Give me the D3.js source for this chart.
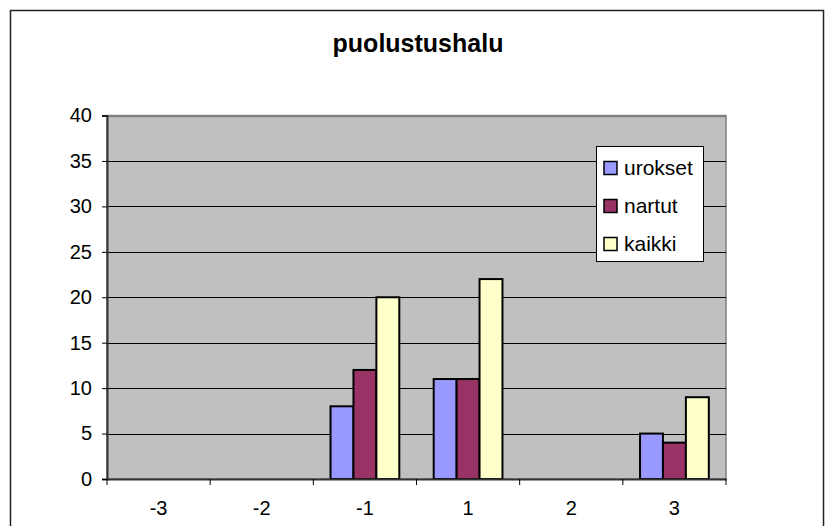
<!DOCTYPE html>
<html>
<head>
<meta charset="utf-8">
<script src="https://cdn.jsdelivr.net/npm/d3@7"></script>
<style>
  body { margin: 0; background: #fff; }
  text { font-family: Arial, "Liberation Sans", sans-serif; }
</style>
</head>
<body>
<div id="chart"></div>
<script>
// Data
const categories = ["-3", "-2", "-1", "1", "2", "3"];
const seriesNames = ["urokset", "nartut", "kaikki"];
const urokset = [0, 0, 8, 11, 0, 5];
const nartut = [0, 0, 12, 11, 0, 4];
const kaikki = [0, 0, 20, 22, 0, 9];
const yTicks = [0, 5, 10, 15, 20, 25, 30, 35, 40];
const colors = ["#9999ff", "#993366", "#ffffcc"];

const seriesValues = [urokset, nartut, kaikki];

const W = 826, H = 526;
const plot = {left: 107, top: 115.5, right: 726, bottom: 479};

const svg = d3.select("#chart")
    .append("svg")
    .attr("width", W)
    .attr("height", H);

// Outer frame
svg.append("rect")
    .attr("x", 10.5)
    .attr("y", 10.5)
    .attr("width", 813)
    .attr("height", 530)
    .attr("fill", "#fff")
    .attr("stroke", "#222")
    .attr("stroke-width", 1.5);

// Title
svg.append("text")
    .attr("x", 418)
    .attr("y", 52)
    .attr("text-anchor", "middle")
    .style("font-size", "25px")
    .style("font-weight", "bold")
    .text("puolustushalu");

// Scales
const x0 = d3.scaleBand()
    .domain(categories)
    .range([plot.left, plot.right]);

const x1 = d3.scaleBand()
    .domain(seriesNames)
    .range([0, x0.bandwidth()])
    .paddingOuter(0.75)
    .paddingInner(0);

const y = d3.scaleLinear()
    .domain([0, 40])
    .range([plot.bottom, plot.top]);

// Plot area
svg.append("rect")
    .attr("x", plot.left)
    .attr("y", plot.top)
    .attr("width", plot.right - plot.left)
    .attr("height", plot.bottom - plot.top)
    .attr("fill", "#c0c0c0")
    .attr("stroke", "#808080")
    .attr("stroke-width", 1.5);

// Gridlines
svg.append("g")
    .selectAll("line")
    .data(yTicks.filter(d => d > 0))
    .enter()
    .append("line")
    .attr("x1", plot.left)
    .attr("x2", plot.right)
    .attr("y1", d => Math.round(y(d)) + 0.5)
    .attr("y2", d => Math.round(y(d)) + 0.5)
    .attr("stroke", d => d === 40 ? "#808080" : "#000")
    .attr("stroke-width", d => d === 40 ? 1.5 : 1);

// Bars
categories.forEach((c, i) => {
    seriesNames.forEach((s, j) => {
        const v = seriesValues[j][i];
        if (v <= 0) return;
        svg.append("rect")
            .attr("x", x0(c) + x1(s))
            .attr("y", y(v))
            .attr("width", x1.bandwidth())
            .attr("height", y(0) - y(v))
            .attr("fill", colors[j])
            .attr("stroke", "#000")
            .attr("stroke-width", 2);
    });
});

// Y axis
const yAxis = svg.append("g")
    .attr("transform", `translate(${plot.left},0)`)
    .call(d3.axisLeft(y).tickValues(yTicks).tickSize(5).tickPadding(10));
yAxis.select(".domain").attr("stroke", "#333").attr("stroke-width", 2);
yAxis.selectAll(".tick line").attr("stroke", "#000");
yAxis.selectAll(".tick text")
    .style("font-size", "20px")
    .style("font-family", "Arial, 'Liberation Sans', sans-serif")
    .attr("fill", "#000");

// X axis
const xAxis = svg.append("g")
    .attr("transform", `translate(0,${plot.bottom})`)
    .call(d3.axisBottom(x0).tickSize(0).tickPadding(22));
xAxis.select(".domain").attr("stroke", "#333").attr("stroke-width", 2);
xAxis.selectAll(".tick text")
    .style("font-size", "20px")
    .style("font-family", "Arial, 'Liberation Sans', sans-serif")
    .attr("fill", "#000");

// Category boundary ticks
const bounds = categories.map(c => x0(c)).concat([plot.right]);
svg.append("g")
    .selectAll("line")
    .data(bounds)
    .enter()
    .append("line")
    .attr("x1", d => d)
    .attr("x2", d => d)
    .attr("y1", plot.bottom)
    .attr("y2", plot.bottom + 6)
    .attr("stroke", "#000");

// Legend
const legend = svg.append("g");
legend.append("rect")
    .attr("x", 596.5)
    .attr("y", 146.5)
    .attr("width", 107)
    .attr("height", 115)
    .attr("fill", "#fff")
    .attr("stroke", "#000")
    .attr("stroke-width", 1);

seriesNames.forEach((s, j) => {
    const cy = 168 + j * 38;
    legend.append("rect")
        .attr("x", 604)
        .attr("y", cy - 6.5)
        .attr("width", 13)
        .attr("height", 13)
        .attr("fill", colors[j])
        .attr("stroke", "#000")
        .attr("stroke-width", 1.5);
    legend.append("text")
        .attr("x", 624)
        .attr("y", cy)
        .attr("dy", "0.35em")
        .style("font-size", "21px")
        .text(s);
});
</script>
</body>
</html>
